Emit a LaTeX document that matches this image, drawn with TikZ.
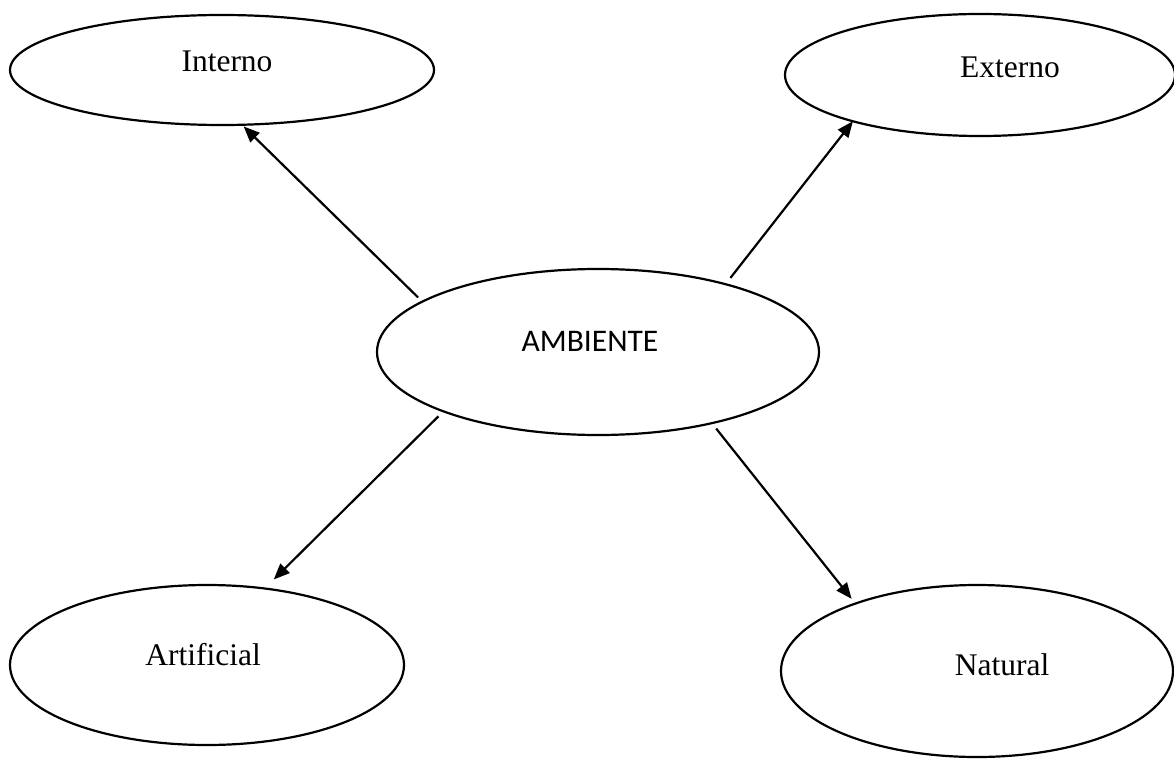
\documentclass[tikz,border=0pt]{standalone}
\usepackage{fontspec}
\setmainfont{Liberation Serif}
\newfontfamily\calibrifont{Carlito}
\usetikzlibrary{shapes.geometric,arrows.meta}
\begin{document}
\begin{tikzpicture}[x=1pt,y=-1pt,
  oval/.style={draw=black, line width=2.2pt, ellipse, inner sep=0pt, outer sep=0pt},
  lab/.style={font=\fontsize{31.5}{36}\selectfont, inner sep=0pt},
  arr/.style={draw=black, line width=2.2pt, -{Triangle[length=16pt,width=13pt]}}]
\useasboundingbox (0,0) rectangle (1174,759);
\fill[white] (0,0) rectangle (1174,759);
\node[oval, minimum width=424pt, minimum height=110pt,
      label={[lab, xshift=5pt, yshift=9pt]center:Interno}] (int) at (222,70) {};
\node[oval, minimum width=390pt, minimum height=122pt,
      label={[lab, xshift=30pt, yshift=8pt]center:Externo}] (ext) at (980,75) {};
\node[oval, minimum width=442pt, minimum height=166pt,
      label={[lab, font=\calibrifont\fontsize{31.5}{36}\selectfont, xshift=-8pt, yshift=11pt]center:AMBIENTE}] (amb) at (598,352) {};
\node[oval, minimum width=394pt, minimum height=160pt,
      label={[lab, xshift=-4pt, yshift=10pt]center:Artificial}] (art) at (207,665) {};
\node[oval, minimum width=392pt, minimum height=172pt,
      label={[lab, xshift=25pt, yshift=6pt]center:Natural}] (nat) at (977,671) {};
\draw[arr, shorten <=6pt, shorten >=2.4pt] (amb.164) -- (int.290.2);
\draw[arr, shorten <=8pt] (amb.28.4) -- (ext.200.9);
\draw[arr, shorten <=7pt, shorten >=12.8pt] (amb.201.1) -- (art.53.7);
\draw[arr, shorten <=7pt, shorten >=6pt] (amb.328) -- (nat.151.3);
\end{tikzpicture}
\end{document}
